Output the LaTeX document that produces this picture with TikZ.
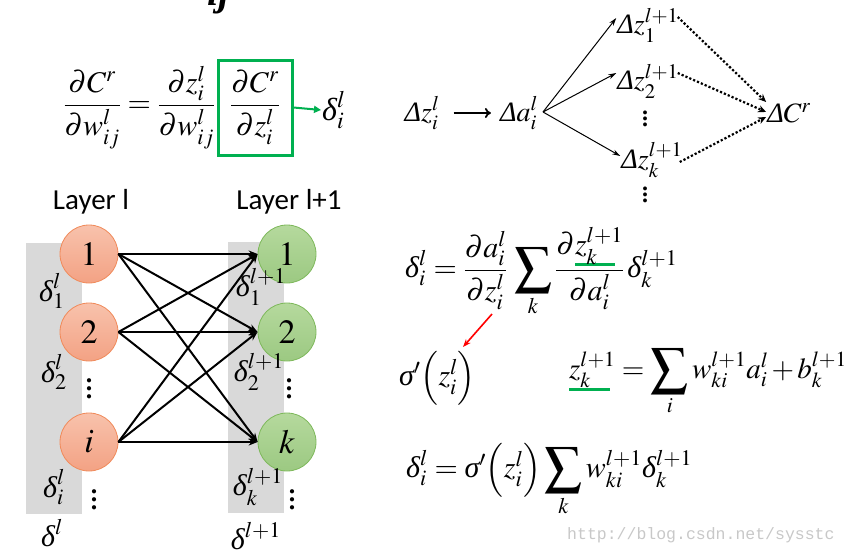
\documentclass[tikz,border=0pt]{standalone}
\usepackage{amsmath}
\usepackage{mathptmx}
\usepackage[no-math]{fontspec}
\newfontfamily\layerfont{Carlito}
\newfontfamily\wmfont{Liberation Mono}
\newfontfamily\tnrfont{Liberation Serif}
\usetikzlibrary{arrows.meta}
\definecolor{gline}{HTML}{00B050}
\definecolor{oborder}{HTML}{F08A5A}
\definecolor{otop}{HTML}{F8C2AC}
\definecolor{obot}{HTML}{F3A284}
\definecolor{gborder}{HTML}{7DB85A}
\definecolor{gtop}{HTML}{B5D99D}
\definecolor{gbot}{HTML}{9CC982}
\definecolor{panelgray}{HTML}{D9D9D9}
\definecolor{wm}{HTML}{C8C8C8}
\newcommand{\gd}{\text{\tnrfont\itshape δ}}
\newcommand{\gs}{\text{\tnrfont\itshape σ}}
\newcommand{\gD}{\text{\tnrfont\itshape Δ}}
\newcommand{\bigsum}{\mathop{\vcenter{\hbox{\fontsize{37}{37}\selectfont$\displaystyle\sum$}}}\limits}
\newcommand{\gbar}[2]{\rlap{\textcolor{gline}{\rule[#1]{#2}{3pt}}}}
\newcommand{\vdd}[2]{\vbox{\baselineskip=#2\lineskiplimit=-10pt\hbox{\fontsize{#1}{#1}\tnrfont\bfseries .}\hbox{\fontsize{#1}{#1}\tnrfont\bfseries .}\hbox{\fontsize{#1}{#1}\tnrfont\bfseries .}}}
\tikzset{
  fs/.style={font=\fontsize{#1}{#1}\selectfont},
  onode/.style={circle, draw=oborder, line width=0.8pt, top color=otop, bottom color=obot, minimum size=58pt, inner sep=0pt, fs=34},
  gnode/.style={circle, draw=gborder, line width=0.8pt, top color=gtop, bottom color=gbot, minimum size=58pt, inner sep=0pt, fs=34},
  netarrow/.style={line width=2pt, -{Stealth[length=9pt,width=7pt]}},
  thinarrow/.style={line width=1pt, -{Stealth[length=8pt,width=5pt]}},
  dotarrow/.style={line width=2.2pt, dotted, -{Stealth[length=8pt,width=7pt]}},
  gboxstyle/.style={draw=gline, line width=3pt, minimum width=74pt, minimum height=95pt, inner sep=0pt, fs=30},
  lab/.style={inner sep=1pt, fs=30},
  dlab/.style={inner sep=1pt, fs=28},
  dots/.style={inner sep=0pt},
  layer/.style={font=\layerfont\fontsize{29}{29}\selectfont},
}
\begin{document}
\begin{tikzpicture}[x=1pt, y=-1pt]
\useasboundingbox (0,0) rectangle (849,555);
% cut-off title fragment at the top
\node[anchor=base west, inner sep=0pt, font=\fontsize{40}{40}\tnrfont\bfseries\itshape] (cut) at (207,5) {ij};

% ---------- top-left formula ----------
\node[gboxstyle] (box) at (255,107.5) {$\dfrac{\partial C^r}{\partial z^l_i}$};
\node[anchor=east, inner sep=1pt, fs=30] (lhs) at (box.west) {$\dfrac{\partial C^r}{\partial w^l_{ij}} = \dfrac{\partial z^l_i}{\partial w^l_{ij}}$};
\node[anchor=west, inner sep=1pt, fs=32] (dil) at (321,110) {$\gd^l_i$};
\draw[line width=2pt, gline, -{Triangle[length=7pt,width=7pt]}] (box.east) -- (dil.west);

% ---------- top-right chain ----------
\node[dlab] (dz) at (422,113) {$\gD z^l_i$};
\node[dlab] (da) at (519,113) {$\gD a^l_i$};
\draw[line width=1.8pt, -{To[length=6pt,width=10pt]}, shorten <=13pt, shorten >=8pt] (dz.east) -- (da.west);
\node[dlab] (z1) at (648,25) {$\gD z^{l+1}_1$};
\node[dlab] (z2) at (648,81) {$\gD z^{l+1}_2$};
\node[dlab] (zk) at (652,160) {$\gD z^{l+1}_k$};
\node[dots] (zdots) at (645,119) {\vdd{24}{6pt}};
\node[dots] (zdots2) at (645,195) {\vdd{24}{6pt}};
\node[dlab] (dC) at (789,113) {$\gD C^r$};
\coordinate (dastart) at (543,112);
\draw[thinarrow] (dastart) -- ([yshift=7pt]z1.west);
\draw[thinarrow] (dastart) -- ([yshift=8pt]z2.west);
\draw[thinarrow] (dastart) -- ([yshift=4pt]zk.west);
\draw[dotarrow] ([xshift=-2pt,yshift=8pt]z1.east) -- ([yshift=11pt]dC.west);
\draw[dotarrow] ([xshift=-2pt,yshift=8pt]z2.east) -- ([yshift=1pt]dC.west);
\draw[dotarrow] ([xshift=-4pt,yshift=-2pt]zk.east) -- ([yshift=-4pt]dC.west);

% ---------- network ----------
\fill[panelgray] (26,243) rectangle (82,514);
\fill[panelgray] (228,242) rectangle (284,513);
\node[layer] (L1) at (91,202) {Layer l};
\node[layer] (L2) at (289,202) {Layer l+1};
\node[onode] (a1) at (89,254) {$1$};
\node[onode] (a2) at (89,332) {$2$};
\node[onode] (ai) at (89,442) {$i$};
\node[gnode] (b1) at (287,254) {$1$};
\node[gnode] (b2) at (287,332) {$2$};
\node[gnode] (bk) at (287,442) {$k$};
\foreach \s in {a1,a2,ai}{
  \foreach \t in {b1,b2,bk}{
    \draw[netarrow] (\s.east) -- (\t.west);
  }
}
\node[lab] (d1) at (52,291) {$\gd^l_1$};
\node[lab] (d2) at (54,372) {$\gd^l_2$};
\node[lab] (di) at (54,487) {$\gd^l_i$};
\node[lab] (dall) at (52,533) {$\gd^l$};
\node[dots] (ldots1) at (89,389) {\vdd{26}{8pt}};
\node[dots] (ldots2) at (94,500) {\vdd{26}{8pt}};
\node[lab] (e1) at (261,287) {$\gd^{l+1}_1$};
\node[lab] (e2) at (259,372) {$\gd^{l+1}_2$};
\node[lab] (ek) at (258,487) {$\gd^{l+1}_k$};
\node[lab] (eall) at (256,536) {$\gd^{l+1}$};
\node[dots] (rdots1) at (289,389) {\vdd{26}{8pt}};
\node[dots] (rdots2) at (292,500) {\vdd{26}{8pt}};

% ---------- right formulas ----------
\node[anchor=west, inner sep=0pt, fs=30] (f1) at (405,272) {$\gd^l_i = \dfrac{\partial a^l_i}{\partial z^l_i}\,\bigsum_k \dfrac{\partial \gbar{-11pt}{40pt}z^{l+1}_k}{\partial a^l_i}\,\gd^{l+1}_k$};
\node[anchor=west, inner sep=0pt, fs=30] (sig) at (399,378) {$\gs'\Bigl(z^l_i\Bigr)$};
\coordinate (rs) at (492,314);
\coordinate (re) at (463,347);
\draw[red, line width=1.6pt, -{Stealth[length=8pt,width=6pt]}] (rs) -- (re);
\node[anchor=west, inner sep=0pt, fs=29] (zf) at (569,382) {$\thickmuskip=4mu\medmuskip=2mu\gbar{-13pt}{41pt}z^{l+1}_k = \bigsum_i w^{l+1}_{ki}a^l_i + b^{l+1}_k$};
\node[anchor=west, inner sep=0pt, fs=30] (f4) at (406,480) {$\gd^l_i = \gs'\Bigl(z^l_i\Bigr)\bigsum_k w^{l+1}_{ki}\gd^{l+1}_k$};
\node[anchor=west, inner sep=0pt, text=wm, font=\wmfont\fontsize{16.5}{16.5}\selectfont] (wmk) at (567,535) {http://blog.csdn.net/sysstc};
\end{tikzpicture}
\end{document}
